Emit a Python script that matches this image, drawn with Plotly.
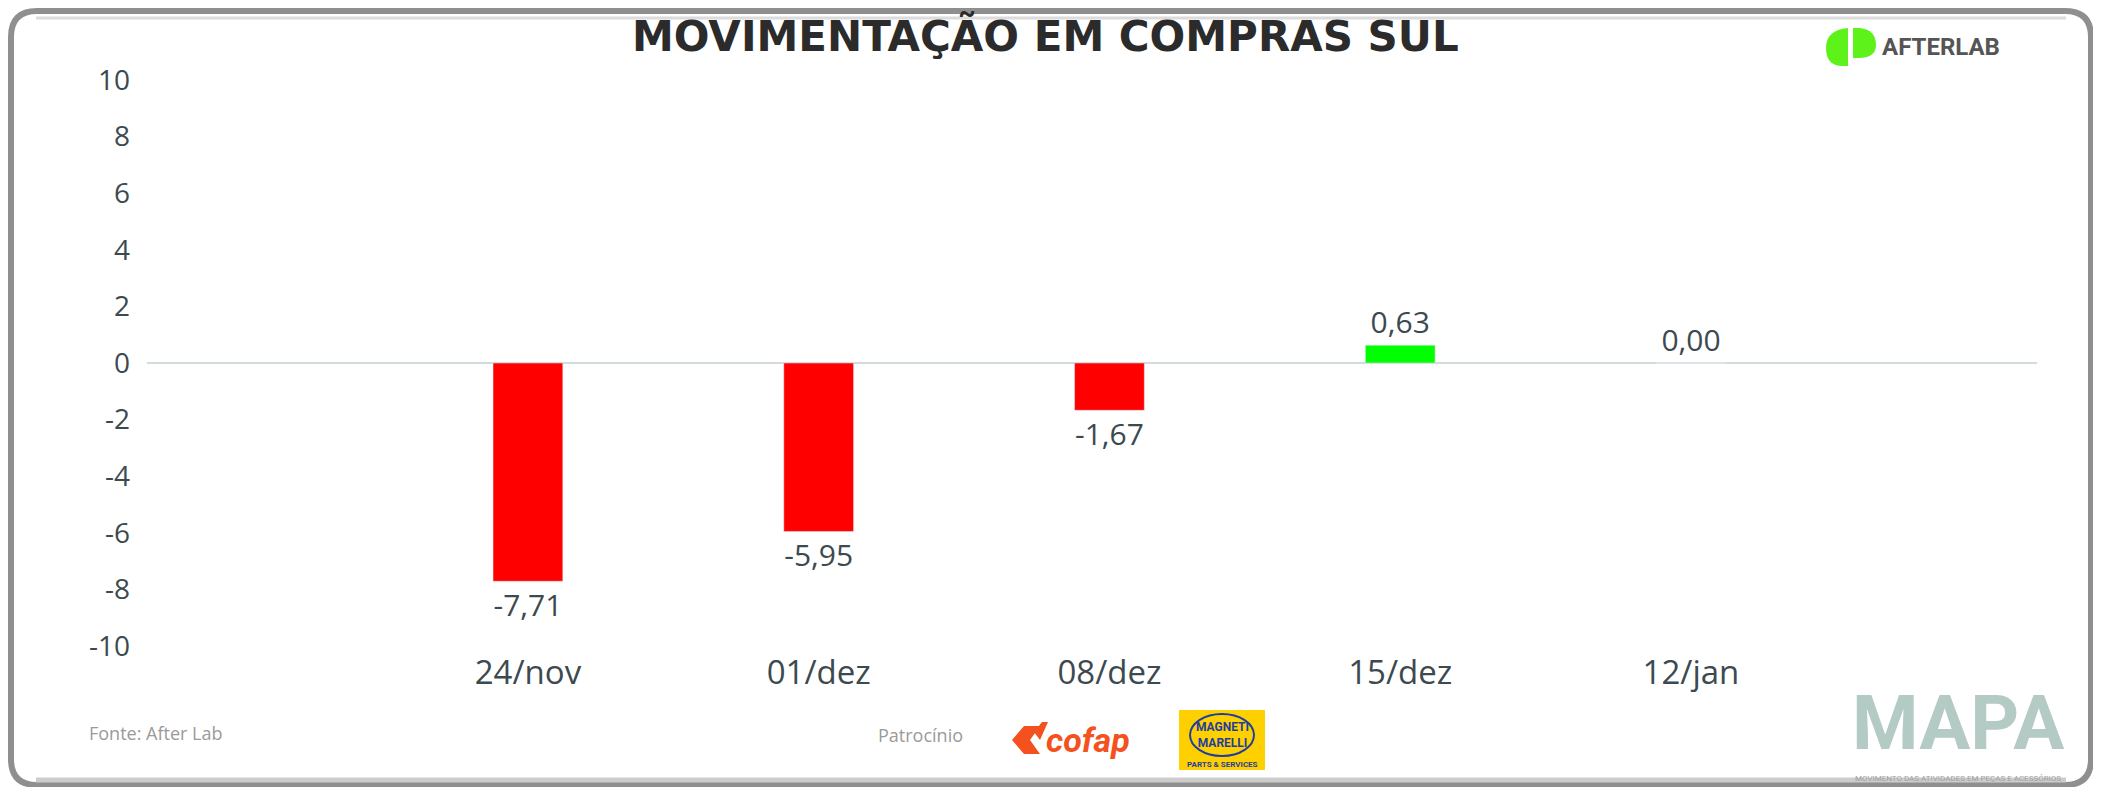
import plotly.graph_objects as go

# ---- data ----
categories = ["24/nov", "01/dez", "08/dez", "15/dez", "12/jan"]
values = [-7.71, -5.95, -1.67, 0.63, 0.00]
ytick_vals = [10, 8, 6, 4, 2, 0, -2, -4, -6, -8, -10]
ytick_text = [str(v) for v in ytick_vals]
title_text = "MOVIMENTAÇÃO EM COMPRAS SUL"

labels = [f"{v:.2f}".replace(".", ",") for v in values]
colors = ["#FF0000" if v < 0 else "#00FF00" for v in values]

# page body has an 8px margin; lay out in window coordinates
OFF = 8
FW, FH = 2101 - 2 * OFF, 795 - 2 * OFF
L, T = 147 - OFF, 70 - OFF
R = FW - (2037 - OFF)
B = FH - (656 - OFF)
PW, PH = FW - L - R, FH - T - B


def px(x):
    return (x - OFF - L) / PW


def py(y):
    return (FH - B - (y - OFF)) / PH


TXT = "#3c4a50"

fig = go.Figure()
fig.add_trace(go.Bar(
    x=categories, y=values, marker_color=colors, width=0.24,
    text=labels, textposition="outside", cliponaxis=False,
    textfont=dict(family="Open Sans", size=30, color=TXT),
    hoverinfo="skip",
))

shapes = []
# frame
x0, y0, x1, y1, r = 11, 11, 2091, 785, 26
path = (f"M {px(x0+r)},{py(y0)} L {px(x1-r)},{py(y0)} Q {px(x1)},{py(y0)} {px(x1)},{py(y0+r)} "
        f"L {px(x1)},{py(y1-r)} Q {px(x1)},{py(y1)} {px(x1-r)},{py(y1)} "
        f"L {px(x0+r)},{py(y1)} Q {px(x0)},{py(y1)} {px(x0)},{py(y1-r)} "
        f"L {px(x0)},{py(y0+r)} Q {px(x0)},{py(y0)} {px(x0+r)},{py(y0)} Z")
shapes.append(dict(type="path", xref="paper", yref="paper", path=path,
                   line=dict(color="#8f8f8f", width=6), layer="below"))
shapes.append(dict(type="line", xref="paper", yref="paper", x0=px(36), x1=px(2066), y0=py(18), y1=py(18),
                   line=dict(color="#dcdcdc", width=3)))
shapes.append(dict(type="line", xref="paper", yref="paper", x0=px(36), x1=px(2066), y0=py(780), y1=py(780),
                   line=dict(color="#cccccc", width=5)))

# AFTERLAB green logo
shapes.append(dict(type="path", xref="paper", yref="paper",
                   path=(f"M {px(1848)},{py(28)} Q {px(1826)},{py(30)} {px(1826)},{py(48)} "
                         f"Q {px(1826)},{py(66)} {px(1843)},{py(66)} L {px(1848)},{py(66)} Z"),
                   fillcolor="#5cf21a", line=dict(width=0)))
shapes.append(dict(type="path", xref="paper", yref="paper",
                   path=(f"M {px(1853)},{py(28)} L {px(1860)},{py(28)} Q {px(1876)},{py(30)} {px(1876)},{py(45)} "
                         f"Q {px(1876)},{py(58)} {px(1858)},{py(58)} L {px(1853)},{py(58)} Z"),
                   fillcolor="#5cf21a", line=dict(width=0)))

# cofap chevron
shapes.append(dict(type="path", xref="paper", yref="paper",
                   path=(f"M {px(1012)},{py(740)} L {px(1024)},{py(726)} L {px(1040)},{py(726)} L {px(1030)},{py(740)} "
                         f"L {px(1040)},{py(754)} L {px(1024)},{py(754)} Z"),
                   fillcolor="#f4511e", line=dict(width=0)))
shapes.append(dict(type="path", xref="paper", yref="paper",
                   path=(f"M {px(1034)},{py(732)} L {px(1042)},{py(722)} L {px(1048)},{py(722)} L {px(1040)},{py(740)} Z"),
                   fillcolor="#f4511e", line=dict(width=0)))
# Magneti Marelli box
shapes.append(dict(type="rect", xref="paper", yref="paper", x0=px(1179), x1=px(1265), y0=py(770), y1=py(710),
                   fillcolor="#ffd000", line=dict(width=0)))
shapes.append(dict(type="circle", xref="paper", yref="paper", x0=px(1190), x1=px(1254), y0=py(756), y1=py(714),
                   fillcolor="#ffd000", line=dict(color="#1f3f9f", width=2)))

ann = []
ann.append(dict(text=f"<b>{title_text}</b>", x=px(1045), y=py(36), xref="paper", yref="paper",
                showarrow=False, xanchor="center", yanchor="middle",
                font=dict(family="DejaVu Sans", size=42, color="#2b2b2b")))
ann.append(dict(text="<b>AFTERLAB</b>", x=px(1880), y=py(47), xref="paper", yref="paper",
                showarrow=False, xanchor="left", yanchor="middle",
                font=dict(family="Roboto", size=24, color="#555555")))
ann.append(dict(text="Fonte: After Lab", x=px(87), y=py(733), xref="paper", yref="paper",
                showarrow=False, xanchor="left", yanchor="middle",
                font=dict(family="Open Sans", size=18, color="#9a9a9a")))
ann.append(dict(text="Patrocínio", x=px(965), y=py(735), xref="paper", yref="paper",
                showarrow=False, xanchor="right", yanchor="middle",
                font=dict(family="Open Sans", size=18, color="#9a9a9a")))
ann.append(dict(text="<b><i>cofap</i></b>", x=px(1044), y=py(740), xref="paper", yref="paper",
                showarrow=False, xanchor="left", yanchor="middle",
                font=dict(family="Roboto", size=34, color="#f4511e")))
ann.append(dict(text="<b>MAGNETI<br>MARELLI</b>", x=px(1222), y=py(735), xref="paper", yref="paper",
                showarrow=False, xanchor="center", yanchor="middle",
                font=dict(family="Roboto", size=12, color="#1f3f9f")))
ann.append(dict(text="<b>PARTS & SERVICES</b>", x=px(1222), y=py(764), xref="paper", yref="paper",
                showarrow=False, xanchor="center", yanchor="middle",
                font=dict(family="Roboto", size=8, color="#1f3f9f")))
ann.append(dict(text="<b>MAPA</b>", x=px(1958), y=py(723), xref="paper", yref="paper",
                showarrow=False, xanchor="center", yanchor="middle",
                font=dict(family="Roboto", size=76, color="#b4cac4")))
ann.append(dict(text="MOVIMENTO DAS ATIVIDADES EM PEÇAS E ACESSÓRIOS", x=px(1958), y=py(778), xref="paper",
                yref="paper", showarrow=False, xanchor="center", yanchor="middle",
                font=dict(family="Roboto", size=8, color="#a0a0a0")))

fig.update_layout(
    width=FW, height=FH,
    margin=dict(l=L, r=R, t=T, b=B),
    paper_bgcolor="white", plot_bgcolor="white",
    showlegend=False,
    shapes=shapes, annotations=ann,
    xaxis=dict(type="category", range=[-1.31, 5.19], showgrid=False, showline=False, ticks="",
               tickfont=dict(family="Open Sans", size=33, color=TXT), ticklabelstandoff=-6),
    yaxis=dict(range=[-10.35, 10.35], tickvals=ytick_vals, ticktext=ytick_text, showgrid=False,
               zeroline=True, zerolinecolor="#d3dcdc", zerolinewidth=2, showline=False, ticks="",
               tickfont=dict(family="Open Sans", size=28, color=TXT), ticklabelstandoff=16),
)

fig.write_html("out.html")
